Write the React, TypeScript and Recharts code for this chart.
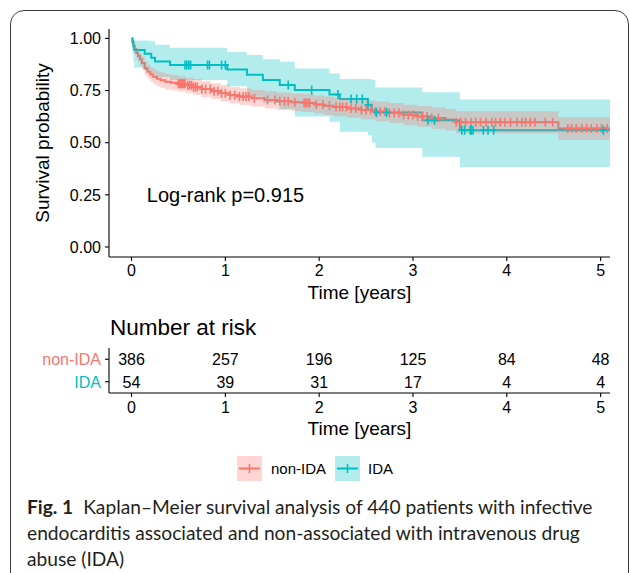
import React from 'react';
import { ComposedChart, Line, Area, Scatter, XAxis, YAxis, ReferenceDot } from 'recharts';

const RED = '#F8766D';
const TEAL = '#00BFC4';
const FONT = '"Liberation Sans", Arial, sans-serif';

// non-IDA Kaplan-Meier curve (step times, survival, 95% CI)
const NON_IDA_T = [0, 0.01, 0.02, 0.03, 0.05, 0.07, 0.09, 0.11, 0.14, 0.17, 0.2, 0.23, 0.27, 0.31, 0.36, 0.42, 0.5, 0.58, 0.66, 0.75, 0.85, 0.95, 1.05, 1.15, 1.28, 1.42, 1.55, 1.7, 1.82, 1.95, 2.05, 2.15, 2.3, 2.45, 2.6, 2.75, 2.9, 3.05, 3.2, 3.35, 3.46, 4.55, 5.1];
const NON_IDA_S = [1, 0.985, 0.965, 0.948, 0.93, 0.915, 0.9, 0.882, 0.857, 0.84, 0.827, 0.816, 0.807, 0.799, 0.792, 0.787, 0.782, 0.775, 0.767, 0.757, 0.747, 0.737, 0.728, 0.721, 0.713, 0.705, 0.699, 0.694, 0.69, 0.683, 0.677, 0.671, 0.664, 0.657, 0.65, 0.642, 0.633, 0.626, 0.618, 0.61, 0.598, 0.568, 0.568];
const NON_IDA_LO = [1, 0.973, 0.948, 0.927, 0.905, 0.888, 0.871, 0.851, 0.824, 0.806, 0.792, 0.78, 0.771, 0.762, 0.755, 0.75, 0.745, 0.737, 0.729, 0.719, 0.709, 0.698, 0.689, 0.681, 0.673, 0.664, 0.658, 0.652, 0.647, 0.64, 0.633, 0.627, 0.619, 0.611, 0.603, 0.594, 0.584, 0.576, 0.567, 0.558, 0.545, 0.514, 0.514];
const NON_IDA_HI = [1, 0.997, 0.983, 0.969, 0.955, 0.942, 0.929, 0.913, 0.89, 0.874, 0.862, 0.852, 0.843, 0.836, 0.829, 0.824, 0.819, 0.813, 0.805, 0.795, 0.785, 0.776, 0.767, 0.761, 0.753, 0.746, 0.74, 0.736, 0.733, 0.726, 0.721, 0.715, 0.709, 0.703, 0.697, 0.69, 0.682, 0.676, 0.669, 0.662, 0.651, 0.622, 0.622];
const NON_IDA_CENSOR = [0.5, 0.51, 0.52, 0.53, 0.54, 0.55, 0.56, 0.57, 0.6, 0.62, 0.64, 0.66, 0.68, 0.7, 0.75, 0.79, 0.84, 0.88, 0.92, 0.96, 1.0, 1.05, 1.1, 1.15, 1.19, 1.22, 1.25, 1.31, 1.45, 1.53, 1.58, 1.63, 1.67, 1.74, 1.84, 1.86, 1.88, 1.9, 1.97, 2.04, 2.11, 2.18, 2.22, 2.25, 2.29, 2.34, 2.39, 2.45, 2.5, 2.55, 2.6, 2.65, 2.7, 2.75, 2.8, 2.85, 2.9, 2.95, 3.0, 3.05, 3.1, 3.15, 3.2, 3.27, 3.46, 3.51, 3.56, 3.62, 3.67, 3.72, 3.78, 3.84, 3.88, 3.93, 3.98, 4.04, 4.11, 4.16, 4.2, 4.25, 4.3, 4.41, 4.49, 4.65, 4.69, 4.74, 4.8, 4.85, 4.9, 4.96, 5.01, 5.07];

// IDA curve
const IDA_T = [0, 0.01, 0.02, 0.03, 0.14, 0.21, 0.25, 0.41, 1.02, 1.23, 1.4, 1.58, 1.74, 2.11, 2.22, 2.52, 2.56, 2.6, 3.1, 3.5, 5.1];
const IDA_S = [1, 0.981, 0.963, 0.944, 0.926, 0.907, 0.889, 0.872, 0.851, 0.826, 0.801, 0.777, 0.753, 0.731, 0.71, 0.682, 0.656, 0.645, 0.607, 0.56, 0.56];
const IDA_LO = [1, 0.93, 0.89, 0.86, 0.845, 0.83, 0.815, 0.8, 0.77, 0.72, 0.69, 0.66, 0.625, 0.6, 0.552, 0.535, 0.5, 0.474, 0.432, 0.384, 0.384];
const IDA_HI = [1, 0.99, 0.99, 0.99, 0.99, 0.985, 0.97, 0.955, 0.935, 0.92, 0.9, 0.888, 0.856, 0.832, 0.805, 0.805, 0.8, 0.765, 0.742, 0.707, 0.707];
const IDA_CENSOR = [0.57, 0.59, 0.61, 0.63, 0.81, 0.83, 0.96, 1.0, 1.67, 1.92, 2.2, 2.34, 2.4, 2.46, 2.52, 2.61, 2.72, 3.16, 3.23, 3.52, 3.55, 3.61, 3.62, 3.64, 3.75, 3.8, 3.86, 5.03];

const YEARS = [0, 1, 2, 3, 4, 5];
const SURV_TICKS = [0, 0.25, 0.5, 0.75, 1];
const GROUPS = ['non-IDA', 'IDA'];
const RISK_NON_IDA = [386, 257, 196, 125, 84, 48];
const RISK_IDA = [54, 39, 31, 17, 4, 4];

const CAPTION_LINES = [
    'Kaplan–Meier survival analysis of 440 patients with infective',
    'endocarditis associated and non-associated with intravenous drug',
    'abuse (IDA)',
];

const X_DOMAIN = [-0.24, 5.1];
const Y_DOMAIN = [-0.048, 1.045];

function toSeries(ts: number[], ss: number[], lo: number[], hi: number[]) {
    return ts.map((t, i) => ({ t, s: ss[i], ci: [lo[i], hi[i]] }));
}

function stepAt(ts: number[], ss: number[], t: number) {
    let v = ss[0];
    for (let i = 0; i < ts.length; i++) if (ts[i] <= t) v = ss[i];
    return v;
}

const nonIda = toSeries(NON_IDA_T, NON_IDA_S, NON_IDA_LO, NON_IDA_HI);
const ida = toSeries(IDA_T, IDA_S, IDA_LO, IDA_HI);
const nonIdaCens = NON_IDA_CENSOR.map(t => ({ t, s: stepAt(NON_IDA_T, NON_IDA_S, t) }));
const idaCens = IDA_CENSOR.map(t => ({ t, s: stepAt(IDA_T, IDA_S, t) }));

const riskRows = YEARS.flatMap((t, i) => [
    { t, row: 1.5, n: RISK_NON_IDA[i] },
    { t, row: 0.5, n: RISK_IDA[i] },
]);

const plus = (color: string) => (props: any) => {
    const { cx, cy } = props;
    return (
        <path d={`M${cx - 3.5},${cy}H${cx + 3.5}M${cx},${cy - 4.5}V${cy + 4.5}`} stroke={color} strokeWidth={1.6} fill="none" />
    );
};

const RiskNumber = (props: any) => (
    <text x={props.cx} y={props.cy} dy="0.36em" textAnchor="middle" fontSize={16} fill="#000" fontFamily={FONT}>
        {props.payload.n}
    </text>
);

const RiskTick = (props: any) => {
    const { x, y, payload } = props;
    const isNon = payload.value > 1;
    return (
        <text x={x} y={y} dy="0.36em" textAnchor="end" fontSize={16} fill={isNon ? RED : TEAL} fontFamily={FONT}>
            {isNon ? GROUPS[0] : GROUPS[1]}
        </text>
    );
};

const xTitle = (baseline: number) => (props: any) => {
    const vb = props.viewBox;
    return (
        <text x={vb.x + vb.width / 2} y={vb.y + baseline} textAnchor="middle" fontSize={19} fill="#000" fontFamily={FONT}>
            Time [years]
        </text>
    );
};

const YTitle = (props: any) => {
    const vb = props.viewBox;
    const x = vb.x + 49;
    const y = vb.y + vb.height / 2;
    return (
        <text x={x} y={y} transform={`rotate(-90 ${x} ${y})`} textAnchor="middle" fontSize={19} fill="#000" fontFamily={FONT}>
            Survival probability
        </text>
    );
};

const axisProps = {
    stroke: '#000',
    strokeWidth: 1.1,
    tickLine: { stroke: '#000', strokeWidth: 1.1 },
    tickSize: 4,
};

const LegendKey = ({ bg, color }: { bg: string; color: string }) => (
    <svg width={25} height={25} style={{ display: 'block' }}>
        <rect x={0} y={0} width={25} height={25} fill={bg} />
        <line x1={2} y1={12.5} x2={23} y2={12.5} stroke={color} strokeWidth={2} />
        <line x1={12.5} y1={8} x2={12.5} y2={17} stroke={color} strokeWidth={1.6} />
    </svg>
);

const captionStyle: React.CSSProperties = {
    position: 'absolute',
    left: 27,
    whiteSpace: 'nowrap',
    fontFamily: 'Lato, "Open Sans", sans-serif',
    fontSize: 19.2,
    lineHeight: '26px',
    color: '#231f20',
};

export default function App() {
    return (
        <div style={{ position: 'absolute', left: 0, top: 0, width: 629, height: 573, background: '#fff', overflow: 'hidden', fontFamily: FONT }}>
            <div style={{ position: 'absolute', left: 10, top: 10, width: 617, height: 620, border: '1.3px solid #3c3c3c', borderRadius: 14 }} />

            {/* axes + survival step lines */}
            <div style={{ position: 'absolute', left: 0, top: 0 }}>
                <ComposedChart width={629} height={305} margin={{ top: 29, right: 19, bottom: 0, left: 0 }}>
                    <XAxis type="number" dataKey="t" domain={X_DOMAIN} ticks={YEARS} allowDataOverflow height={48}
                        tick={{ fontSize: 16, fill: '#000', fontFamily: FONT }} tickMargin={4} {...axisProps}
                        label={{ content: xTitle(41.6) }} />
                    <YAxis type="number" domain={Y_DOMAIN} ticks={SURV_TICKS} allowDataOverflow width={109}
                        tickFormatter={(v: number) => v.toFixed(2)}
                        tick={{ fontSize: 16, fill: '#000', fontFamily: FONT }} tickMargin={4} {...axisProps}
                        label={{ content: YTitle }} />
                    <Line data={nonIda} dataKey="s" type="stepAfter" stroke={RED} strokeWidth={2} dot={false} activeDot={false} isAnimationActive={false} />
                    <Line data={ida} dataKey="s" type="stepAfter" stroke={TEAL} strokeWidth={2} dot={false} activeDot={false} isAnimationActive={false} />
                    <ReferenceDot x={0.163} y={0.25} r={0} fill="none" stroke="none"
                        label={{ value: 'Log-rank p=0.915', position: 'right', offset: 0, fontSize: 20, fill: '#000', fontFamily: FONT }} />
                </ComposedChart>
            </div>

            {/* confidence ribbons and censor marks drawn over the lines */}
            <div style={{ position: 'absolute', left: 0, top: 0 }}>
                <ComposedChart width={629} height={305} margin={{ top: 29, right: 19, bottom: 48, left: 109 }}>
                    <XAxis type="number" dataKey="t" domain={X_DOMAIN} allowDataOverflow hide />
                    <YAxis type="number" domain={Y_DOMAIN} allowDataOverflow hide />
                    <Area data={ida} dataKey="ci" type="stepAfter" stroke="none" fill={TEAL} fillOpacity={0.3} dot={false} activeDot={false} isAnimationActive={false} />
                    <Area data={nonIda} dataKey="ci" type="stepAfter" stroke="none" fill={RED} fillOpacity={0.3} dot={false} activeDot={false} isAnimationActive={false} />
                    <Scatter data={nonIdaCens} dataKey="s" shape={plus(RED)} isAnimationActive={false} />
                    <Scatter data={idaCens} dataKey="s" shape={plus(TEAL)} isAnimationActive={false} />
                </ComposedChart>
            </div>

            <svg width={629} height={30} style={{ position: 'absolute', left: 0, top: 310 }}>
                <text x={110} y={25} fontSize={22.5} fill="#000" fontFamily={FONT}>Number at risk</text>
            </svg>

            <div style={{ position: 'absolute', left: 0, top: 318 }}>
                <ComposedChart width={629} height={125} margin={{ top: 30, right: 19, bottom: 0, left: 0 }}>
                    <XAxis type="number" dataKey="t" domain={X_DOMAIN} ticks={YEARS} allowDataOverflow height={50}
                        tick={{ fontSize: 16, fill: '#000', fontFamily: FONT }} tickMargin={5} {...axisProps}
                        label={{ content: xTitle(41.7) }} />
                    <YAxis type="number" dataKey="row" domain={[0, 2]} ticks={[0.5, 1.5]} interval={0} width={109}
                        tick={<RiskTick />} tickMargin={4} {...axisProps} />
                    <Scatter data={riskRows} dataKey="row" shape={RiskNumber} isAnimationActive={false} />
                </ComposedChart>
            </div>

            <div style={{ position: 'absolute', left: 237, top: 456, display: 'flex', alignItems: 'center', fontSize: 15, fontFamily: FONT, color: '#000' }}>
                <LegendKey bg="#FDD6D3" color={RED} />
                <span style={{ marginLeft: 9, marginRight: 9 }}>non-IDA</span>
                <LegendKey bg="#B3ECED" color={TEAL} />
                <span style={{ marginLeft: 8 }}>IDA</span>
            </div>

            <div style={{ ...captionStyle, top: 494 }}>
                <span style={{ fontWeight: 700, marginRight: 10 }}>Fig. 1</span>
                <span>{CAPTION_LINES[0]}</span>
            </div>
            <div style={{ ...captionStyle, top: 520 }}>{CAPTION_LINES[1]}</div>
            <div style={{ ...captionStyle, top: 546 }}>{CAPTION_LINES[2]}</div>
        </div>
    );
}
